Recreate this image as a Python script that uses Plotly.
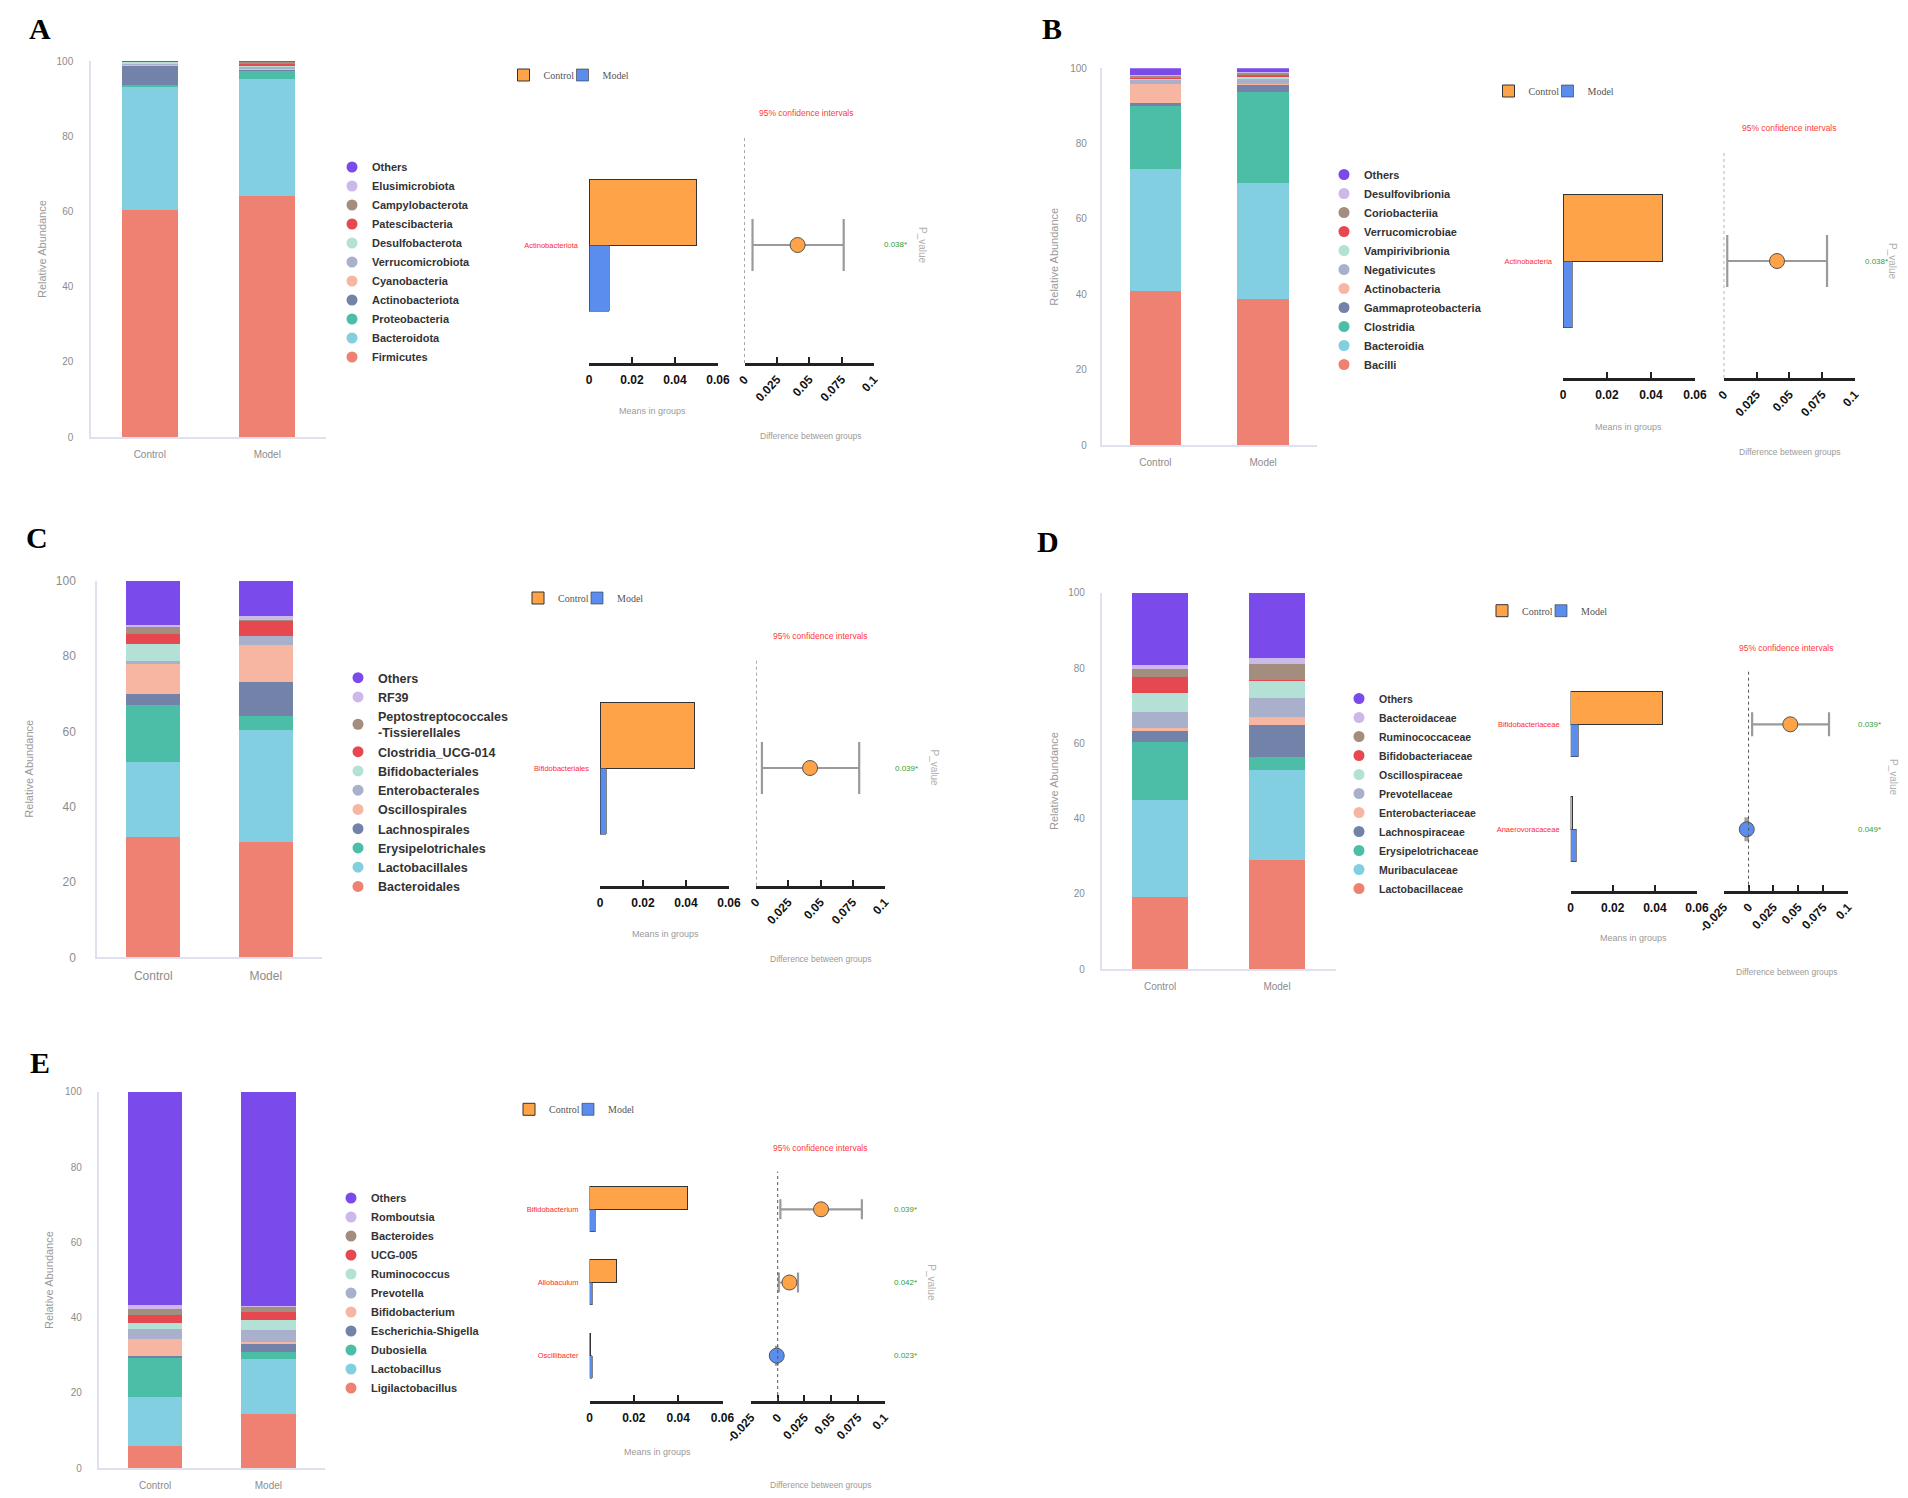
import plotly.graph_objects as go

# page is 1908x1498; the browser body keeps an 8 px margin, so the figure is drawn 8 px in
PAGE_W, PAGE_H, BODY = 1908, 1498, 8
FW, FH = PAGE_W - 2 * BODY, PAGE_H - 2 * BODY

GROUPS = ["Control", "Model"]

# ---------------- Panel A (phylum) ----------------
A_taxa = ["Firmicutes", "Bacteroidota", "Proteobacteria", "Actinobacteriota", "Cyanobacteria",
          "Verrucomicrobiota", "Desulfobacterota", "Patescibacteria", "Campylobacterota",
          "Elusimicrobiota", "Others"]
A_control = [60.4, 32.6, 0.6, 5.3, 0.1, 0.3, 0.5, 0.05, 0.05, 0.05, 0.05]
A_model = [64.0, 31.3, 2.1, 0.3, 0.4, 0.5, 0.3, 0.4, 0.5, 0.1, 0.1]
A_feat = ["Actinobacteriota"]
A_mean_ctrl = [0.0498]
A_mean_model = [0.0094]
A_diff = [0.0410]
A_ci_lo = [0.0062]
A_ci_hi = [0.0766]
A_p = ["0.038*"]

# ---------------- Panel B (class) ----------------
B_taxa = ["Bacilli", "Bacteroidia", "Clostridia", "Gammaproteobacteria", "Actinobacteria",
          "Negativicutes", "Vampirivibrionia", "Verrucomicrobiae", "Coriobacteriia",
          "Desulfovibrionia", "Others"]
B_control = [41.0, 32.2, 16.8, 0.9, 4.9, 1.1, 0.3, 0.4, 0.4, 0.3, 1.7]
B_model = [38.7, 30.9, 24.2, 1.8, 0.3, 1.2, 0.5, 0.6, 0.5, 0.4, 0.9]
B_feat = ["Actinobacteria"]
B_mean_ctrl = [0.0450]
B_mean_model = [0.0041]
B_diff = [0.0406]
B_ci_lo = [0.0027]
B_ci_hi = [0.0787]
B_p = ["0.038*"]

# ---------------- Panel C (order) ----------------
C_taxa = ["Bacteroidales", "Lactobacillales", "Erysipelotrichales", "Lachnospirales",
          "Oscillospirales", "Enterobacterales", "Bifidobacteriales", "Clostridia_UCG-014",
          "Peptostreptococcales-Tissierellales", "RF39", "Others"]
C_control = [31.9, 19.9, 15.2, 3.1, 7.9, 0.7, 4.6, 2.5, 2.0, 0.6, 11.6]
C_model = [30.7, 29.7, 3.8, 8.9, 9.9, 2.4, 0.1, 4.0, 0.2, 0.9, 9.4]
C_feat = ["Bifidobacteriales"]
C_mean_ctrl = [0.0438]
C_mean_model = [0.0028]
C_diff = [0.0419]
C_ci_lo = [0.0046]
C_ci_hi = [0.0800]
C_p = ["0.039*"]

# ---------------- Panel D (family) ----------------
D_taxa = ["Lactobacillaceae", "Muribaculaceae", "Erysipelotrichaceae", "Lachnospiraceae",
          "Enterobacteriaceae", "Prevotellaceae", "Oscillospiraceae", "Bifidobacteriaceae",
          "Ruminococcaceae", "Bacteroidaceae", "Others"]
D_control = [19.1, 25.9, 15.3, 3.1, 0.6, 4.4, 4.9, 4.2, 2.3, 1.1, 19.1]
D_model = [29.0, 23.9, 3.4, 8.6, 2.2, 5.0, 4.7, 0.1, 4.3, 1.5, 17.3]
D_feat = ["Bifidobacteriaceae", "Anaerovoracaceae"]
D_mean_ctrl = [0.0438, 0.0008]
D_mean_model = [0.0036, 0.0026]
D_diff = [0.0420, -0.0018]
D_ci_lo = [0.0036, -0.0030]
D_ci_hi = [0.0809, -0.0006]
D_p = ["0.039*", "0.049*"]

# ---------------- Panel E (genus) ----------------
E_taxa = ["Ligilactobacillus", "Lactobacillus", "Dubosiella", "Escherichia-Shigella",
          "Bifidobacterium", "Prevotella", "Ruminococcus", "UCG-005", "Bacteroides",
          "Romboutsia", "Others"]
E_control = [6.0, 13.0, 10.2, 0.7, 4.3, 2.8, 1.7, 1.9, 1.6, 1.1, 56.7]
E_model = [14.4, 14.5, 2.1, 2.0, 0.6, 3.2, 2.7, 1.9, 1.6, 0.2, 56.8]
E_feat = ["Bifidobacterium", "Allobaculum", "Oscillibacter"]
E_mean_ctrl = [0.0441, 0.0121, 0.0003]
E_mean_model = [0.0026, 0.0012, 0.0012]
E_diff = [0.0406, 0.0110, -0.0009]
E_ci_lo = [0.0025, 0.0010, -0.0016]
E_ci_hi = [0.0788, 0.0190, -0.0002]
E_p = ["0.039*", "0.042*", "0.023*"]

# tick labels
STACK_TICKS = [0, 20, 40, 60, 80, 100]
MEAN_TICKS = [0, 0.02, 0.04, 0.06]
MEAN_TICKTEXT = ["0", "0.02", "0.04", "0.06"]
DIFF_TICKS = [-0.025, 0, 0.025, 0.05, 0.075, 0.1]
DIFF_TICKTEXT = ["-0.025", "0", "0.025", "0.05", "0.075", "0.1"]

# ---------------- styles ----------------
PALETTE = ["#EE8172", "#82CFE1", "#4CBDA7", "#7282A8", "#F6B6A2", "#A8B0CC",
           "#B3E1D5", "#E5494F", "#A28D7E", "#CBB9EA", "#7A4BEA"]
ORANGE, BLUE = "#FFA348", "#5A8DEE"
SANS = "Liberation Sans, Arial, sans-serif"
SERIF = "Liberation Serif, Times New Roman, serif"

# geometry in page pixels
GEO = {
    "A": dict(label=(40, 28), stack_x=(91, 326), stack_y=(61, 437), sfont=10, ystand=14, ra_x=42,
              legend=(352, 262), lfont=11, cm=(523.5, 75), ci=(806, 113),
              means_x=(589, 718), diff_x=(744.5, 874), diff_lo=0.0,
              mean_y=(135, 363), c0=245, spacing=100, bar_h=66, cap=26,
              p_x=895, pv=(923, 245), mt=(652, 411), dt=(810, 436)),
    "B": dict(label=(1052, 28), stack_x=(1101.6, 1317), stack_y=(68.3, 445), sfont=10, ystand=11, ra_x=1054,
              legend=(1344, 269.5), lfont=11, cm=(1508.5, 91), ci=(1789, 128),
              means_x=(1563, 1695), diff_x=(1723.7, 1855), diff_lo=0.0,
              mean_y=(150, 378), c0=261, spacing=100, bar_h=66.5, cap=26,
              p_x=1876, pv=(1893, 261), mt=(1628, 427), dt=(1789, 452)),
    "C": dict(label=(37, 537), stack_x=(97, 322), stack_y=(581, 957.3), sfont=12, ystand=17, ra_x=29.5,
              legend=(358, 782), lfont=12.5, cm=(538, 598), ci=(820, 636),
              means_x=(600, 729), diff_x=(756, 885), diff_lo=0.0,
              mean_y=(658, 885.7), c0=768, spacing=100, bar_h=66, cap=26,
              p_x=906, pv=(933.5, 768), mt=(665, 934), dt=(820, 959)),
    "D": dict(label=(1048, 542), stack_x=(1101.6, 1335.5), stack_y=(592.7, 969.3), sfont=10, ystand=13, ra_x=1054,
              legend=(1359, 793.5), lfont=10.5, cm=(1502, 610.7), ci=(1786, 648),
              means_x=(1570.6, 1697), diff_x=(1723.7, 1848), diff_lo=-0.025,
              mean_y=(670, 890.7), c0=724.3, spacing=105, bar_h=32.5, cap=12,
              p_x=1869.5, pv=(1893, 777), mt=(1633, 938), dt=(1786, 972)),
    "E": dict(label=(40, 1062), stack_x=(98.5, 325), stack_y=(1091.7, 1468.3), sfont=10, ystand=13, ra_x=49,
              legend=(351, 1293), lfont=11, cm=(529, 1109.3), ci=(820, 1148),
              means_x=(589.5, 722.5), diff_x=(751, 884.5), diff_lo=-0.025,
              mean_y=(1171.7, 1401), c0=1209.3, spacing=73.2, bar_h=22.5, cap=10,
              p_x=905, pv=(931.7, 1283), mt=(657, 1452), dt=(820, 1485)),
}

PANELS = [
    ("A", A_taxa, A_control, A_model, A_feat, A_mean_ctrl, A_mean_model, A_diff, A_ci_lo, A_ci_hi, A_p),
    ("B", B_taxa, B_control, B_model, B_feat, B_mean_ctrl, B_mean_model, B_diff, B_ci_lo, B_ci_hi, B_p),
    ("C", C_taxa, C_control, C_model, C_feat, C_mean_ctrl, C_mean_model, C_diff, C_ci_lo, C_ci_hi, C_p),
    ("D", D_taxa, D_control, D_model, D_feat, D_mean_ctrl, D_mean_model, D_diff, D_ci_lo, D_ci_hi, D_p),
    ("E", E_taxa, E_control, E_model, E_feat, E_mean_ctrl, E_mean_model, E_diff, E_ci_lo, E_ci_hi, E_p),
]


def xp(v):
    return (v - BODY) / FW


def yp(v):
    return 1 - (v - BODY) / FH


def axkey(kind, n):
    return f"{kind}axis" if n == 1 else f"{kind}axis{n}"


def axref(kind, n):
    return kind if n == 1 else f"{kind}{n}"


def legkey(n):
    return "legend" if n == 1 else f"legend{n}"


def note(text, x, y, font, yref="paper", angle=0):
    return dict(text=text, x=x, y=y, xref="paper", yref=yref, textangle=angle,
                xanchor="center", yanchor="middle", showarrow=False, font=font)


fig = go.Figure()
lay = dict(width=FW, height=FH, autosize=False,
           margin=dict(l=0, r=0, t=0, b=0, pad=0, autoexpand=False),
           paper_bgcolor="white", plot_bgcolor="white", barmode="stack", showlegend=True,
           hovermode=False)
ann = []
shp = []

for k, (key, taxa, ctrl, model, feat, mc, mm, diff, lo, hi, pvals) in enumerate(PANELS):
    g = GEO[key]
    ns, nm, nd, no = 3 * k + 1, 3 * k + 2, 3 * k + 3, 16 + k
    ls, lc = 2 * k + 1, 2 * k + 2

    # ---- stacked relative abundance bars ----
    for i, taxon in enumerate(taxa):
        fig.add_trace(go.Bar(
            x=GROUPS, y=[ctrl[i], model[i]], name=taxon, width=0.48,
            marker=dict(color=PALETTE[i], line=dict(width=0)),
            xaxis=axref("x", ns), yaxis=axref("y", ns), showlegend=False))
    for i in reversed(range(len(taxa))):
        label = taxa[i].replace("Peptostreptococcales-", "Peptostreptococcales<br>-")
        fig.add_trace(go.Scatter(
            x=[None], y=[None], mode="markers", name=label,
            marker=dict(size=11, color=PALETTE[i]),
            xaxis=axref("x", ns), yaxis=axref("y", ns), legend=legkey(ls), showlegend=True))

    sx0, sx1 = g["stack_x"]
    s100, s0 = g["stack_y"]
    lay[axkey("x", ns)] = dict(
        domain=[xp(sx0), xp(sx1)], anchor=axref("y", ns), type="category", range=[-0.5, 1.5],
        showline=True, linecolor="#dfe2ee", linewidth=1.5, showgrid=False, zeroline=False,
        ticks="", ticklabelstandoff=7, tickfont=dict(family=SANS, size=g["sfont"], color="#8c8c8c"))
    lay[axkey("y", ns)] = dict(
        domain=[yp(s0), yp(s100)], anchor=axref("x", ns), range=[0, 100], tickvals=STACK_TICKS,
        showline=True, linecolor="#dfe2ee", linewidth=1.5, showgrid=False, zeroline=False,
        ticks="", ticklabelstandoff=g["ystand"],
        tickfont=dict(family=SANS, size=g["sfont"], color="#8c8c8c"))
    ann.append(note("Relative Abundance", xp(g["ra_x"]), yp((s100 + s0) / 2),
                    dict(family=SANS, size=11, color="#9a9a9a"), angle=-90))

    lx, lyc = g["legend"]
    lay[legkey(ls)] = dict(
        x=xp(lx - 20), y=yp(lyc), xanchor="left", yanchor="middle", traceorder="normal",
        bgcolor="rgba(0,0,0,0)", itemclick=False, itemdoubleclick=False,
        font=dict(family=SANS, size=g["lfont"], color="#333333", weight="bold"))

    # ---- means in groups ----
    idx = list(range(len(feat)))
    top, bot = g["mean_y"]
    yr = [(bot - g["c0"]) / g["spacing"], (top - g["c0"]) / g["spacing"]]
    w = g["bar_h"] / g["spacing"]
    fig.add_trace(go.Bar(
        x=mc, y=idx, orientation="h", width=w, offset=-w, name="Control", legendwidth=14,
        marker=dict(color=ORANGE, line=dict(color="#333333", width=1)),
        xaxis=axref("x", nm), yaxis=axref("y", nm), legend=legkey(lc)))
    fig.add_trace(go.Bar(
        x=mm, y=idx, orientation="h", width=w, offset=0, name="Model", legendwidth=36,
        marker=dict(color=BLUE, line=dict(color="#333333", width=0.6)),
        xaxis=axref("x", nm), yaxis=axref("y", no), legend=legkey(lc)))

    mx0, mx1 = g["means_x"]
    lay[axkey("x", nm)] = dict(
        domain=[xp(mx0), xp(mx1)], anchor=axref("y", nm), range=[0, 0.06],
        tickvals=MEAN_TICKS, ticktext=MEAN_TICKTEXT, showline=True, linecolor="#222222",
        linewidth=2.5, ticks="inside", ticklen=6, tickwidth=1.5, tickcolor="#222222",
        showgrid=False, zeroline=False, ticklabelstandoff=4,
        tickfont=dict(family=SANS, size=12, color="#111111", weight="bold"))
    lay[axkey("y", nm)] = dict(
        domain=[yp(bot), yp(top)], anchor=axref("x", nm), range=yr, tickvals=idx, ticktext=feat,
        showline=False, showgrid=False, zeroline=False, ticks="", ticklabelstandoff=10,
        tickfont=dict(family=SANS, size=7.5, color="#ff2a2a"))
    lay[axkey("y", no)] = dict(overlaying=axref("y", nm), anchor=axref("x", nm), range=yr,
                               visible=False)

    cmx, cmy = g["cm"]
    lay[legkey(lc)] = dict(
        orientation="h", x=xp(cmx - 20), y=yp(cmy), xanchor="left", yanchor="middle",
        traceorder="normal", bgcolor="rgba(0,0,0,0)",
        itemclick=False, itemdoubleclick=False,
        font=dict(family=SERIF, size=10, color="#555555"))

    # ---- difference between groups ----
    dx0, dx1 = g["diff_x"]
    ticks = [t for t in DIFF_TICKS if t >= g["diff_lo"] - 1e-9]
    ttext = [DIFF_TICKTEXT[DIFF_TICKS.index(t)] for t in ticks]
    fig.add_trace(go.Scatter(
        x=diff, y=idx, mode="markers", showlegend=False,
        marker=dict(size=15, color=[ORANGE if d > 0 else BLUE for d in diff],
                    line=dict(color="#555555", width=1)),
        error_x=dict(type="data", symmetric=False,
                     array=[h - d for h, d in zip(hi, diff)],
                     arrayminus=[d - l for d, l in zip(diff, lo)],
                     color="#9a9a9a", thickness=2.2, width=g["cap"]),
        xaxis=axref("x", nd), yaxis=axref("y", nd)))
    lay[axkey("x", nd)] = dict(
        domain=[xp(dx0), xp(dx1)], anchor=axref("y", nd), range=[g["diff_lo"], 0.1],
        tickvals=ticks, ticktext=ttext, tickangle=-47, showline=True, linecolor="#222222",
        linewidth=2.5, ticks="inside", ticklen=6, tickwidth=1.5, tickcolor="#222222",
        showgrid=False, zeroline=False, ticklabelstandoff=2,
        tickfont=dict(family=SANS, size=12, color="#111111", weight="bold"))
    lay[axkey("y", nd)] = dict(domain=[yp(bot), yp(top)], anchor=axref("x", nd), range=yr,
                               visible=False)
    shp.append(dict(type="line", xref=axref("x", nd), yref=axref("y", nd) + " domain",
                    x0=0, x1=0, y0=0, y1=1, line=dict(color="#555555", width=1, dash="3px,3px")))

    for i, p in enumerate(pvals):
        ann.append(note(p, xp(g["p_x"]), i, dict(family=SANS, size=8, color="#33a033"),
                        yref=axref("y", nm)))
    ann.append(note("P_value", xp(g["pv"][0]), yp(g["pv"][1]),
                    dict(family=SANS, size=10, color="#b0b0b0"), angle=90))
    ann.append(note("95% confidence intervals", xp(g["ci"][0]), yp(g["ci"][1]),
                    dict(family=SANS, size=8.5, color="#ff3b3b")))
    ann.append(note("Means in groups", xp(g["mt"][0]), yp(g["mt"][1]),
                    dict(family=SANS, size=9, color="#9a9a9a")))
    ann.append(note("Difference between groups", xp(g["dt"][0]), yp(g["dt"][1]),
                    dict(family=SANS, size=8.5, color="#9a9a9a")))
    ann.append(note(key, xp(g["label"][0]), yp(g["label"][1]),
                    dict(family=SERIF, size=30, color="#000000", weight="bold")))

lay["annotations"] = ann
lay["shapes"] = shp
fig.update_layout(**lay)
fig.write_html("out.html")
